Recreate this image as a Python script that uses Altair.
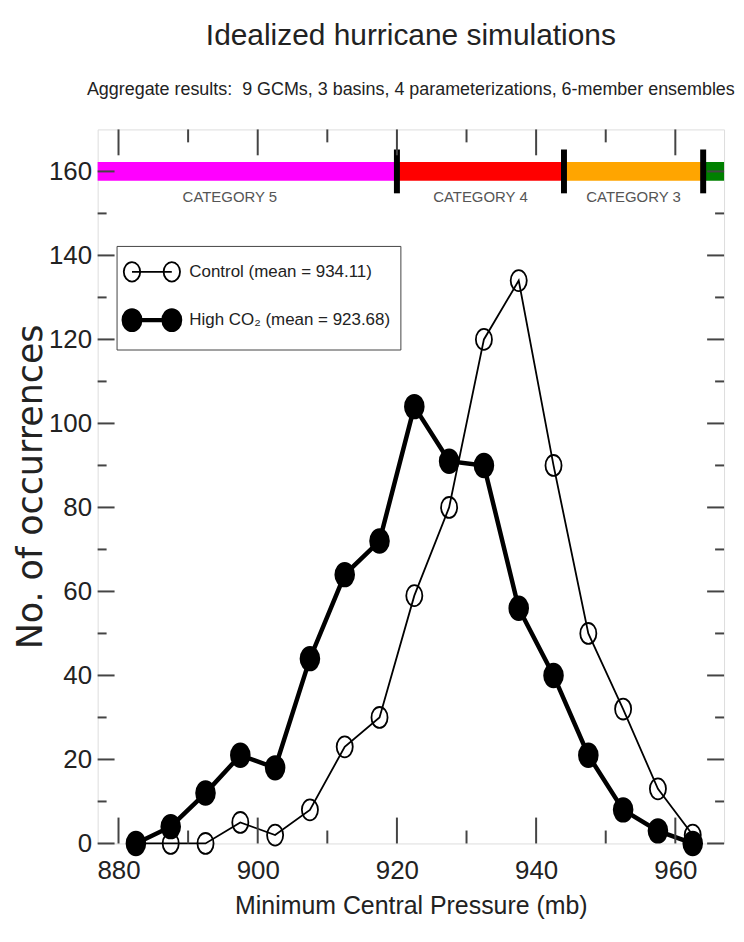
import altair as alt
import pandas as pd

# ---- data ----
pressure = [882.5, 887.5, 892.5, 897.5, 902.5, 907.5, 912.5, 917.5, 922.5,
            927.5, 932.5, 937.5, 942.5, 947.5, 952.5, 957.5, 962.5]
control = [0, 0, 0, 5, 2, 8, 23, 30, 59, 80, 120, 134, 90, 50, 32, 13, 2]
high_co2 = [0, 4, 12, 21, 18, 44, 64, 72, 104, 91, 90, 56, 40, 21, 8, 3, 0]
series_names = ["Control (mean = 934.11)", "High CO\u2082 (mean = 923.68)"]

cat_names = ["CATEGORY 5", "CATEGORY 4", "CATEGORY 3", "CATEGORY 2"]
cat_low = [872, 920, 944, 964]
cat_high = [920, 944, 964, 980]
cat_colors = ["#ff00ff", "#ff0000", "#ffa500", "#008000"]
cat_level = 160

x_domain = [877, 967]
y_domain = [0, 170]
x_major = [880, 900, 920, 940, 960]
x_minor = [890, 910, 930, 950]
y_major = [0, 20, 40, 60, 80, 100, 120, 140, 160]
y_minor = [10, 30, 50, 70, 90, 110, 130, 150]

# ---- layout / style ----
W, H = 629, 717
FONT = "Liberation Sans, Arial, sans-serif"
TXT = "#222222"
ELLIPSE = "M 0.77 0 A 0.77 1 0 1 1 -0.77 0 A 0.77 1 0 1 1 0.77 0 Z"
DUMBBELL = ("M -0.783 0 A 0.55 0.65 0 1 1 -1.883 0 A 0.55 0.65 0 1 1 -0.783 0 Z "
            "M 1.883 0 A 0.55 0.65 0 1 1 0.783 0 A 0.55 0.65 0 1 1 1.883 0 Z "
            "M -1.333 0 L 1.333 0")

rows = []
for name, vals in zip(series_names, [control, high_co2]):
    for p, v in zip(pressure, vals):
        rows.append({"p": p, "n": v, "series": name})
df = pd.DataFrame(rows)

cats = pd.DataFrame({"name": cat_names, "lo": cat_low, "hi": cat_high,
                     "color": cat_colors})
cats["mid"] = (cats["lo"] + cats["hi"]) / 2
cats["level"] = cat_level
bounds = pd.DataFrame({"b": cat_low[1:], "level": cat_level})

xs = alt.Scale(domain=x_domain, nice=False, zero=False)
ys = alt.Scale(domain=y_domain, nice=False, zero=False)
sw = alt.Scale(domain=series_names, range=[1.8, 4.5])
fs = alt.Scale(domain=series_names, range=["transparent", "black"])
ss = alt.Scale(domain=series_names, range=["black", "black"])

x_axis = alt.Axis(values=x_major, format="d", ticks=False, tickSize=0, domain=False,
                  grid=False, labelFont=FONT, labelFontSize=26, labelColor=TXT,
                  labelPadding=14, title="Minimum Central Pressure (mb)",
                  titleFont=FONT, titleFontSize=25, titleFontWeight="normal",
                  titleColor=TXT, titlePadding=10)
y_axis = alt.Axis(values=y_major, format="d", ticks=False, tickSize=0, domain=False,
                  grid=False, labelFont=FONT, labelFontSize=26, labelColor=TXT,
                  labelPadding=6, title="No. of occurrences", titleFont="DejaVu Sans",
                  titleFontSize=35, titleFontWeight="normal", titleColor=TXT,
                  titlePadding=0)

base = alt.Chart(df)

cat_bar = alt.Chart(cats).mark_rule(strokeWidth=19, clip=True, strokeCap="butt").encode(
    x=alt.X("lo:Q", scale=xs, axis=x_axis),
    x2="hi:Q",
    y=alt.Y("level:Q", scale=ys, axis=y_axis),
    color=alt.Color("color:N", scale=None),
)
cat_sep = alt.Chart(bounds).mark_tick(orient="vertical", size=44, thickness=6,
                                      color="black", opacity=1).encode(
    x="b:Q", y="level:Q")
cat_txt = alt.Chart(cats).mark_text(font=FONT, fontSize=15, color="#555555",
                                    dy=26, clip=True).encode(
    x="mid:Q", y="level:Q", text="name:N"
).transform_filter(
    (alt.datum.mid > x_domain[0]) & (alt.datum.mid < x_domain[1]))

legend = alt.Legend(title=None, orient="none", legendX=19, legendY=117,
                    symbolType=DUMBBELL, symbolSize=900,
                    symbolOffset=8, labelOffset=20, rowPadding=15, padding=10,
                    labelFont=FONT, labelFontSize=17, labelColor=TXT,
                    strokeColor="#444444", fillColor="white", labelLimit=400)

lines = base.mark_line().encode(
    x="p:Q", y="n:Q",
    stroke=alt.Stroke("series:N", scale=ss, legend=legend),
    strokeWidth=alt.StrokeWidth("series:N", scale=sw, legend=legend),
)
points = base.mark_point(shape=ELLIPSE, size=441, filled=True, opacity=1).encode(
    x="p:Q", y="n:Q",
    fill=alt.Fill("series:N", scale=fs, legend=legend),
    stroke=alt.Stroke("series:N", scale=ss, legend=legend),
    strokeWidth=alt.StrokeWidth("series:N", scale=sw, legend=legend),
)

tdf_xM = pd.DataFrame({"v": x_major})
tdf_xm = pd.DataFrame({"v": x_minor})
tdf_yM = pd.DataFrame({"v": y_major})
tdf_ym = pd.DataFrame({"v": y_minor})
TK = dict(color="#444444", strokeWidth=2)


def xticks(d, L):
    bot = alt.Chart(d).mark_rule(**TK).encode(x="v:Q", y=alt.value(H), y2=alt.value(H - L))
    top = alt.Chart(d).mark_rule(**TK).encode(x="v:Q", y=alt.value(0), y2=alt.value(L))
    return [bot, top]


def yticks(d, L):
    lft = alt.Chart(d).mark_rule(**TK).encode(y="v:Q", x=alt.value(0), x2=alt.value(L))
    rgt = alt.Chart(d).mark_rule(**TK).encode(y="v:Q", x=alt.value(W), x2=alt.value(W - L))
    return [lft, rgt]


tick_layers = xticks(tdf_xM, 26) + xticks(tdf_xm, 13) + yticks(tdf_yM, 17) + yticks(tdf_ym, 9)

chart = alt.layer(cat_bar, cat_sep, cat_txt, lines, points, *tick_layers).properties(
    width=W, height=H,
    title=alt.Title(
        "Idealized hurricane simulations",
        subtitle="Aggregate results:\u00a0 9 GCMs, 3 basins, 4 parameterizations, 6-member ensembles",
        font=FONT, fontSize=30, fontWeight="normal", color=TXT,
        subtitleFont=FONT, subtitleFontSize=18, subtitleColor=TXT,
        anchor="middle", frame="group", offset=30, subtitlePadding=30),
    autosize=alt.AutoSizeParams(type="none"),
    padding={"left": 90, "top": 120, "right": 12, "bottom": 90},
).configure_view(stroke="#333333", strokeWidth=2).configure(background="white")

chart.save("out.html", embed_options={"renderer": "svg", "actions": False})
